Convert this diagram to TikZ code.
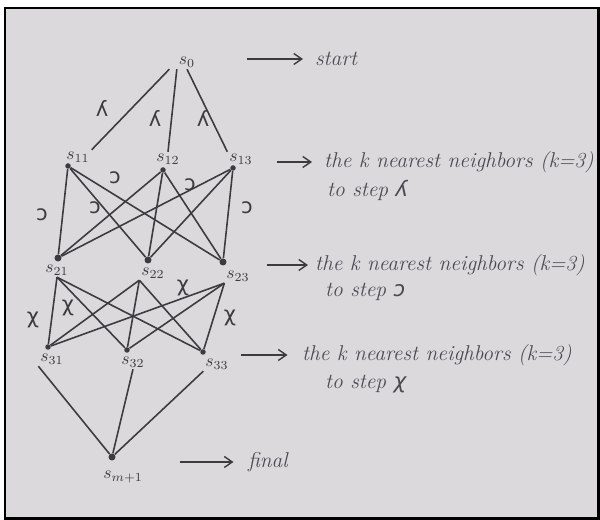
\documentclass[tikz,border=0pt]{standalone}
\usepackage{fontspec}
\usepackage{xcolor}
\usepackage{tikz}
\usetikzlibrary{arrows.meta, positioning}
\newfontfamily\glyphfont{DejaVu Sans}
\definecolor{Paper}{HTML}{DBD9DC}
\definecolor{Ink}{HTML}{3B3B40}
\definecolor{SoftInk}{HTML}{4A4A52}

\begin{document}
\begin{tikzpicture}[
    slabel/.style={text=Ink, inner sep=1pt, font=\normalsize},
    vdot/.style={circle, fill=Ink, inner sep=0pt, minimum size=1.1mm},
    link/.style={draw=Ink, line width=0.9pt},
    pointer/.style={-{Straight Barb[length=1.6mm, width=2.2mm]}, draw=Ink, line width=0.8pt},
    note/.style={anchor=west, inner sep=1pt, text=SoftInk, font=\fontsize{12.2}{14}\selectfont\itshape},
    glyph/.style={text=Ink, inner sep=0pt, font=\glyphfont\large}
]

\useasboundingbox (0,0) rectangle (12,-10.4);
\fill[white] (0,0) rectangle (12,-10.4);
\draw[black, line width=1.6pt, fill=Paper] (0.1,-0.16) rectangle (11.97,-10.37);

\node[slabel] (s0) at (3.74,-1.24) {$s_0$};
\node[note] (start) at (6.26,-1.18) {start};

\node[vdot] (d11) at (1.36,-3.32) {};
\node[vdot] (d12) at (3.26,-3.40) {};
\node[vdot] (d13) at (4.66,-3.36) {};
\node[slabel] (s11) at (1.56,-3.14) {$s_{11}$};
\node[slabel] (s12) at (3.36,-3.18) {$s_{12}$};
\node[slabel] (s13) at (4.82,-3.18) {$s_{13}$};

\node[vdot, minimum size=1.4mm] (d21) at (1.16,-5.16) {};
\node[vdot, minimum size=1.4mm] (d22) at (2.96,-5.20) {};
\node[vdot, minimum size=1.4mm] (d23) at (4.46,-5.24) {};
\node[slabel] (s21) at (1.14,-5.40) {$s_{21}$};
\node[slabel] (s22) at (3.06,-5.46) {$s_{22}$};
\node[slabel] (s23) at (4.76,-5.52) {$s_{23}$};

\node[vdot] (d31) at (0.96,-6.94) {};
\node[vdot] (d32) at (2.54,-7.00) {};
\node[vdot] (d33) at (4.06,-7.04) {};
\node[slabel] (s31) at (1.04,-7.18) {$s_{31}$};
\node[slabel] (s32) at (2.66,-7.24) {$s_{32}$};
\node[slabel] (s33) at (4.34,-7.28) {$s_{33}$};

\node[vdot, minimum size=1.4mm] (dm) at (2.24,-9.14) {};
\node[slabel] (sm) at (2.46,-9.54) {$s_{m+1}$};
\node[note] (final) at (4.92,-9.24) {final};

\node[note] (t1) at (6.44,-3.24) {the k nearest neighbors (k=3)};
\node[note, below right=0.06cm and 0.06cm of t1.south west, anchor=north west] (t1b) {to step {\glyphfont ʎ}};
\node[note] (t2) at (6.26,-5.30) {the k nearest neighbors (k=3)};
\node[note, below right=0.06cm and 0.2cm of t2.south west, anchor=north west] (t2b) {to step {\glyphfont ɔ}};
\node[note] (t3) at (6.00,-7.10) {the k nearest neighbors (k=3)};
\node[note, below right=0.1cm and 0.46cm of t3.south west, anchor=north west] (t3b) {to step {\glyphfont χ}};

\draw[link] ([xshift=-0.15cm]s0.south west) -- (s11.north east);
\draw[link] (s0.south west) -- (s12.north);
\draw[link] (s0.south) -- (s13.north west);

\draw[link] (d11) -- (d21);
\draw[link] (d11) -- (d22);
\draw[link] (d11) -- (d23);
\draw[link] (d12) -- (d21);
\draw[link] (d12) -- (d22);
\draw[link] (d12) -- (d23);
\draw[link] (d13) -- (d21);
\draw[link] (d13) -- (d22);
\draw[link] (d13) -- (d23);

\draw[link] (s21.south) -- (d31);
\draw[link] (s21.south) -- (d32);
\draw[link] (s21.south) -- (d33);
\draw[link] (s22.south west) -- (d31);
\draw[link] (s22.south west) -- (d32);
\draw[link] (s22.south west) -- (d33);
\draw[link] (s23.south west) -- (d31);
\draw[link] (s23.south west) -- (d32);
\draw[link] (s23.south west) -- (d33);

\draw[link] (s31.south west) -- (dm);
\draw[link] (s32.south) -- (dm);
\draw[link] (s33.south west) -- (dm);

\node[glyph] (k1a) at (2.04,-2.16) {ʎ};
\node[glyph] (k1b) at (3.10,-2.36) {ʎ};
\node[glyph] (k1c) at (4.06,-2.36) {ʎ};
\node[glyph] (k2a) at (0.84,-4.30) {ɔ};
\node[glyph] (k2b) at (1.90,-4.16) {ɔ};
\node[glyph] (k2c) at (2.30,-3.56) {ɔ};
\node[glyph] (k2d) at (3.80,-3.70) {ɔ};
\node[glyph] (k2e) at (4.94,-4.16) {ɔ};
\node[glyph] (k3a) at (0.66,-6.40) {χ};
\node[glyph] (k3b) at (1.36,-6.16) {χ};
\node[glyph] (k3c) at (3.66,-5.76) {χ};
\node[glyph] (k3d) at (4.60,-6.36) {χ};

\draw[pointer, shorten <=1.0cm, shorten >=0.2cm] (start.west -| s0.east) -- (start.west);
\draw[pointer, shorten <=0.45cm, shorten >=0.2cm] (t1.west -| s13.east) -- (t1.west);
\draw[pointer, shorten <=0.3cm, shorten >=0.1cm] (t2.west -| s23.east) -- (t2.west);
\draw[pointer, shorten <=0.2cm, shorten >=0.25cm] (t3.west -| s33.east) -- (t3.west);
\draw[pointer, shorten <=0.7cm, shorten >=0.25cm] (final.west -| sm.east) -- (final.west);

\end{tikzpicture}
\end{document}
